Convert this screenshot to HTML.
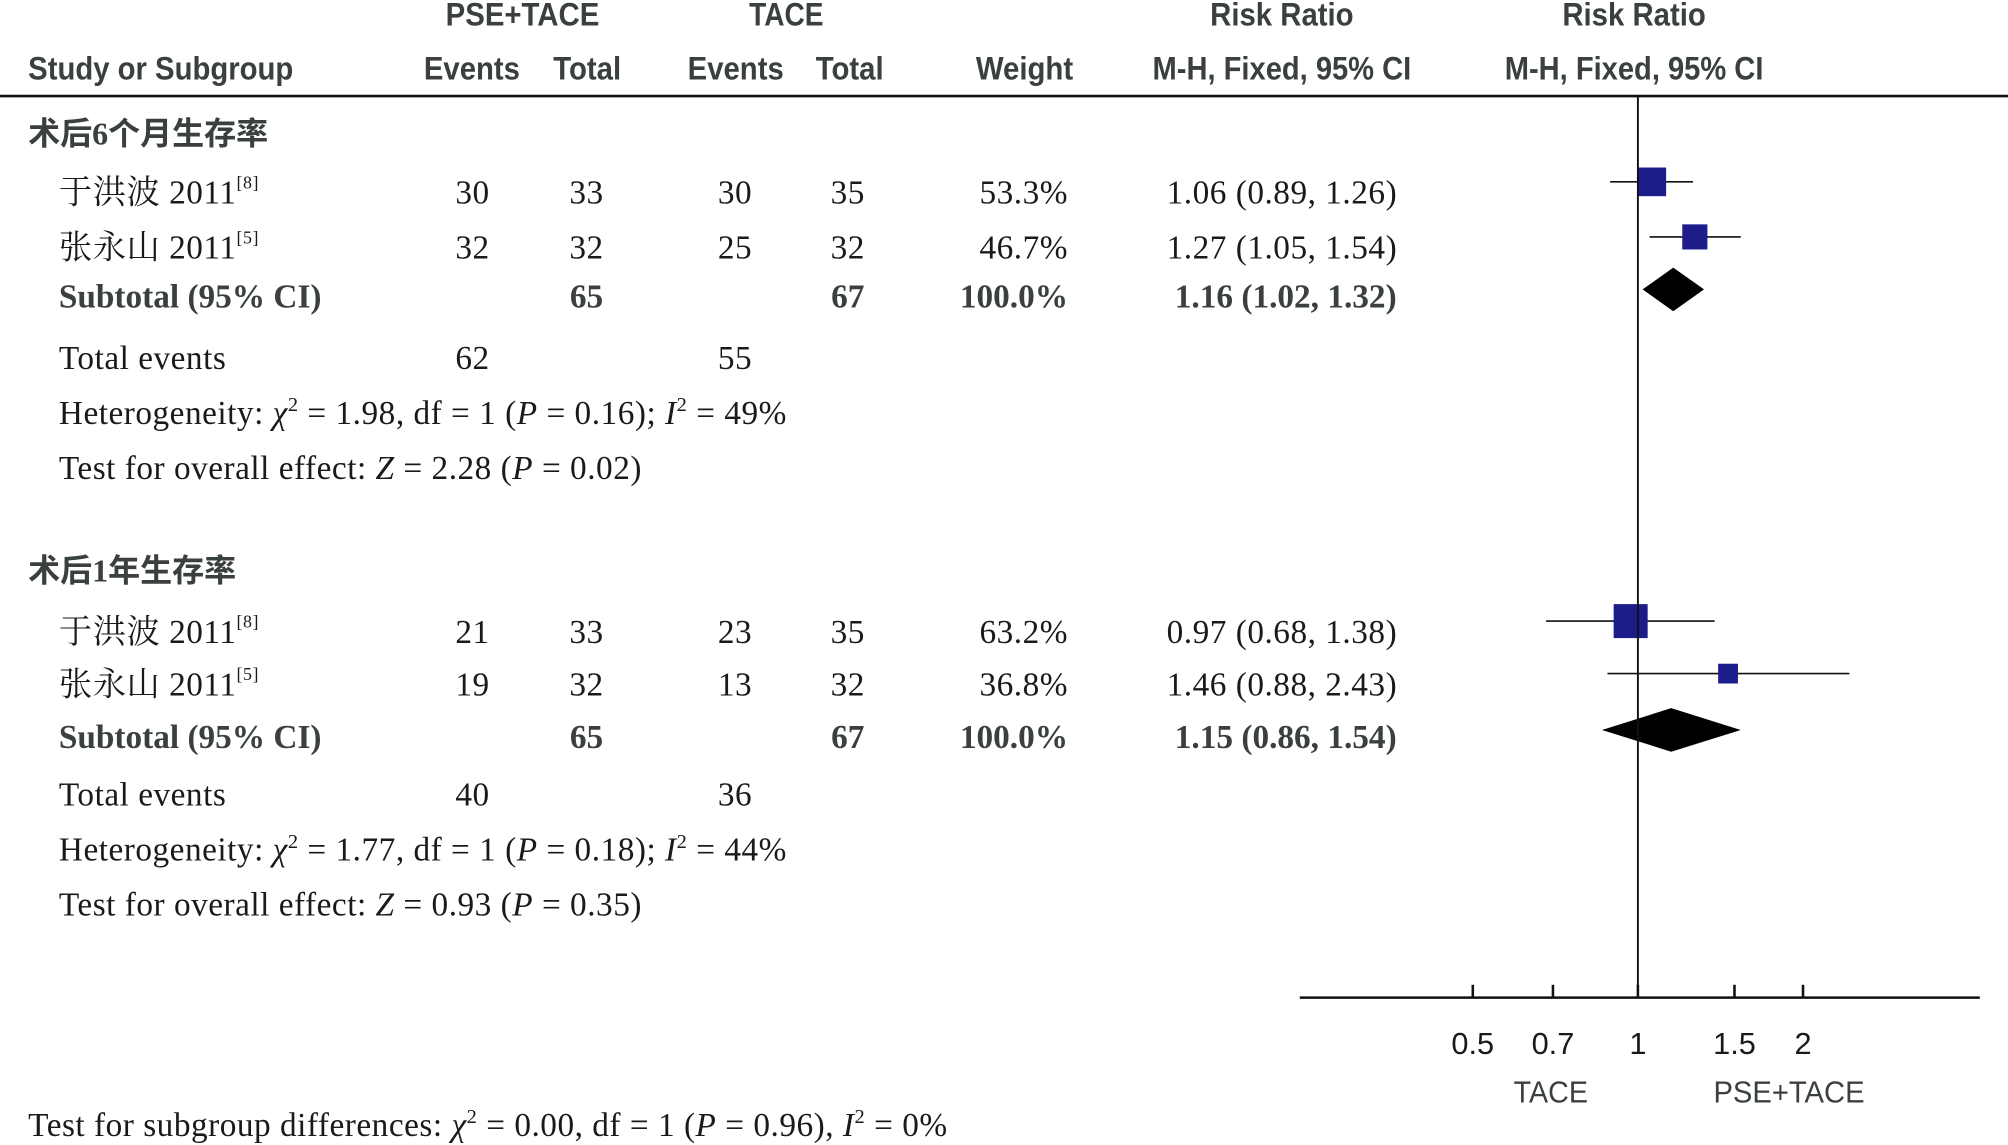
<!DOCTYPE html>
<html><head><meta charset="utf-8">
<style>
html,body{margin:0;padding:0;background:#fff;}
svg{display:block;}
.h{font-family:"Liberation Sans",sans-serif;font-weight:bold;font-size:25px;fill:#3a4040;}
.b{font-family:"Liberation Serif","Noto Serif CJK SC",serif;font-size:26px;letter-spacing:0.4px;fill:#1a1a1a;}
.cj{font-family:"Liberation Serif","Noto Serif CJK SC","Noto Sans CJK SC",serif;font-size:26px;letter-spacing:0.4px;fill:#1a1a1a;}
.g{font-family:"Liberation Serif","Noto Sans CJK SC",sans-serif;font-size:25px;font-weight:bold;fill:#3a4040;}
.s{font-family:"Liberation Serif",serif;font-size:26px;font-weight:bold;fill:#3a4040;}
.ax{font-family:"Liberation Sans",sans-serif;font-size:24px;fill:#1a1a1a;}
.axl{font-family:"Liberation Sans",sans-serif;font-size:24px;fill:#3a4040;}
</style></head>
<body>
<svg id="chart" width="2008" height="1145" viewBox="0 0 1568 894.1" preserveAspectRatio="none" xmlns="http://www.w3.org/2000/svg">
<g>
<text class="h" x="348" y="20" textLength="120" lengthAdjust="spacingAndGlyphs">PSE+TACE</text>
<text class="h" x="585" y="20" textLength="58" lengthAdjust="spacingAndGlyphs">TACE</text>
<text class="h" x="945" y="20" textLength="112" lengthAdjust="spacingAndGlyphs">Risk Ratio</text>
<text class="h" x="1220" y="20" textLength="112" lengthAdjust="spacingAndGlyphs">Risk Ratio</text>
<text class="h" x="22" y="62" textLength="207" lengthAdjust="spacingAndGlyphs">Study or Subgroup</text>
<text class="h" x="331" y="62" textLength="75" lengthAdjust="spacingAndGlyphs">Events</text>
<text class="h" x="432" y="62" textLength="53" lengthAdjust="spacingAndGlyphs">Total</text>
<text class="h" x="537" y="62" textLength="75" lengthAdjust="spacingAndGlyphs">Events</text>
<text class="h" x="637" y="62" textLength="53" lengthAdjust="spacingAndGlyphs">Total</text>
<text class="h" x="762" y="62" textLength="76" lengthAdjust="spacingAndGlyphs">Weight</text>
<text class="h" x="900" y="62" textLength="202" lengthAdjust="spacingAndGlyphs">M-H, Fixed, 95% CI</text>
<text class="h" x="1175" y="62" textLength="202" lengthAdjust="spacingAndGlyphs">M-H, Fixed, 95% CI</text>
</g>
<line x1="0" y1="75" x2="1568" y2="75" stroke="#111" stroke-width="2"/>
<g id="rows"></g>
<g id="plot"></g>
<text class="b" x="22" y="887">Test for subgroup differences: <tspan font-style="italic">χ</tspan><tspan dy="-10" font-size="16">2</tspan><tspan dy="10"> = 0.00, df = 1 (</tspan><tspan font-style="italic">P</tspan> = 0.96), <tspan font-style="italic">I</tspan><tspan dy="-10" font-size="16">2</tspan><tspan dy="10"> = 0%</tspan></text>
</svg>
<script>
const groupTitles = ["术后6个月生存率", "术后1年生存率"];
const studyNames = [["于洪波 2011","张永山 2011"],["于洪波 2011","张永山 2011"]];
const studyRefs = [["[8]","[5]"],["[8]","[5]"]];
const expEvents = [[30,32],[21,19]];
const expTotals = [[33,32],[33,32]];
const ctlEvents = [[30,25],[23,13]];
const ctlTotals = [[35,32],[35,32]];
const weights = [[53.3,46.7],[63.2,36.8]];
const rr = [[1.06,1.27],[0.97,1.46]];
const rrLo = [[0.89,1.05],[0.68,0.88]];
const rrHi = [[1.26,1.54],[1.38,2.43]];
const subRR = [1.16,1.15];
const subLo = [1.02,0.86];
const subHi = [1.32,1.54];
const subExpTotal = [65,65];
const subCtlTotal = [67,67];
const totExpEvents = [62,40];
const totCtlEvents = [55,36];
const hetChi = ["1.98","1.77"];
const hetP = ["0.16","0.18"];
const hetI = ["49","44"];
const zVal = ["2.28","0.93"];
const zP = ["0.02","0.35"];
const ticks = [0.5,0.7,1,1.5,2];
const tickLabels = ["0.5","0.7","1","1.5","2"];

const NS="http://www.w3.org/2000/svg";
const x = v => 1279 + 186*Math.log(v);
function mk(tag, attrs, parent, txt){const e=document.createElementNS(NS,tag);for(const k in attrs)e.setAttribute(k,attrs[k]);if(txt!==undefined)e.textContent=txt;parent.appendChild(e);return e;}
const rows=document.getElementById('rows'), plot=document.getElementById('plot');
const f2=v=>v.toFixed(2);
const groupY=[105,446];
for(let g=0;g<2;g++){
  const y0=groupY[g];
  const t=mk('text',{class:'g',x:22,y:y0+8},rows,groupTitles[g]);
  
  
  for(let i=0;i<2;i++){
    const y=y0+(g===0?[46,89][i]:[48,89][i]);
    const n=mk('text',{class:'cj',x:46,y:y+8},rows,studyNames[g][i]);
    
    
    mk('tspan',{dy:-12,'font-size':14},n,studyRefs[g][i]);
    const vals=[[369,expEvents[g][i],'middle'],[458,expTotals[g][i],'middle'],[574,ctlEvents[g][i],'middle'],[662,ctlTotals[g][i],'middle'],[834,weights[g][i].toFixed(1)+'%','end'],[1001,f2(rr[g][i])+' ('+f2(rrLo[g][i])+', '+f2(rrHi[g][i])+')','middle']];
    vals.forEach(v=>{const c=mk('text',{class:'b',x:v[0],y:y+8,'text-anchor':v[2]},rows,String(v[1]));
      
      });
    const cy=y-9;
    const l=mk('line',{x1:x(rrLo[g][i]),x2:x(rrHi[g][i]),y1:cy,y2:cy,stroke:'#111','stroke-width':1.3},plot);
    
    
    const s=0.42*weights[g][i];
    const r=mk('rect',{x:x(rr[g][i])-s/2,y:cy-s/2,width:s,height:s,fill:'#1c1c8a'},plot);
    
    
  }
  const ys=y0+(g===0?127:130);
  const sub=[[46,'Subtotal (95% CI)','start'],[458,subExpTotal[g],'middle'],[662,subCtlTotal[g],'middle'],[834,'100.0%','end'],[1004,f2(subRR[g])+' ('+f2(subLo[g])+', '+f2(subHi[g])+')','middle']];
  sub.forEach(v=>{const c=mk('text',{class:'s',x:v[0],y:ys+8,'text-anchor':v[2]},rows,String(v[1]));
    
    });
  const dy=ys-6;
  const d=mk('polygon',{points:`${x(subLo[g])},${dy} ${x(subRR[g])},${dy-17} ${x(subHi[g])},${dy} ${x(subRR[g])},${dy+17}`,fill:'#000'},plot);
  
  
  const yt=y0+175;
  const te=[[46,'Total events','start'],[369,totExpEvents[g],'middle'],[574,totCtlEvents[g],'middle']];
  te.forEach(v=>{const c=mk('text',{class:'b',x:v[0],y:yt+8,'text-anchor':v[2]},rows,String(v[1]));
    
    });
  const h=mk('text',{class:'b',x:46,y:yt+51},rows);
  
  
  h.innerHTML=`Heterogeneity: <tspan font-style="italic">χ</tspan><tspan dy="-10" font-size="16">2</tspan><tspan dy="10"> = ${hetChi[g]}, df = 1 (</tspan><tspan font-style="italic">P</tspan> = ${hetP[g]}); <tspan font-style="italic">I</tspan><tspan dy="-10" font-size="16">2</tspan><tspan dy="10"> = ${hetI[g]}%</tspan>`;
  const z=mk('text',{class:'b',x:46,y:yt+94},rows);
  
  
  z.innerHTML=`Test for overall effect: <tspan font-style="italic">Z</tspan> = ${zVal[g]} (<tspan font-style="italic">P</tspan> = ${zP[g]})`;
}
const vl=mk('line',{x1:x(1),x2:x(1),y1:75,y2:779,stroke:'#111','stroke-width':1.5},plot);


const axl=mk('line',{x1:1015,x2:1546,y1:779,y2:779,stroke:'#111','stroke-width':2},plot);


ticks.forEach((t,i)=>{
  const tk=mk('line',{x1:x(t),x2:x(t),y1:769,y2:779,stroke:'#111','stroke-width':2},plot);
  
  
  const tl=mk('text',{class:'ax',x:x(t),y:823,'text-anchor':'middle'},plot,tickLabels[i]);
  
  
});
const l1=mk('text',{class:'axl',x:1182,y:861,textLength:58,lengthAdjust:'spacingAndGlyphs'},plot,'TACE');


const l2=mk('text',{class:'axl',x:1338,y:861,textLength:118,lengthAdjust:'spacingAndGlyphs'},plot,'PSE+TACE');


</script>
</body></html>
